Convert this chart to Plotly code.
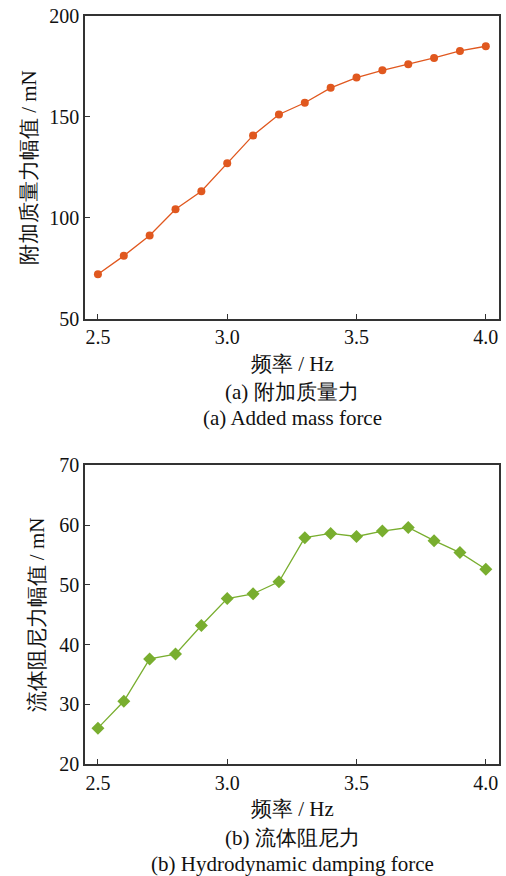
import plotly.graph_objects as go
from plotly.subplots import make_subplots

# frequency (Hz)
freq = [2.5, 2.6, 2.7, 2.8, 2.9, 3.0, 3.1, 3.2, 3.3, 3.4, 3.5, 3.6, 3.7, 3.8, 3.9, 4.0]
# added mass force amplitude (mN)
added_mass = [72.0, 81.1, 91.2, 104.2, 113.1, 127.0, 140.8, 151.2, 157.0, 164.4,
              169.5, 173.1, 176.1, 179.2, 182.7, 185.0]
# hydrodynamic damping force amplitude (mN)
damping = [26.0, 30.5, 37.6, 38.4, 43.2, 47.7, 48.5, 50.5, 57.9, 58.6,
           58.1, 59.0, 59.6, 57.4, 55.4, 52.6]

x_ticks = [2.5, 3.0, 3.5, 4.0]
x_tick_text = ["2.5", "3.0", "3.5", "4.0"]
y1_ticks = [50, 100, 150, 200]
y2_ticks = [20, 30, 40, 50, 60, 70]

FONT = "Liberation Serif"
ORANGE = "#E0581F"
GREEN = "#79AE2F"
FRAME = "#333333"

W, H = 506, 876
ML, MR, MT, MB = 85, 5, 15, 112
plot_h = H - MT - MB


def py(px):
    """Pixel row -> paper y coordinate."""
    return (H - MB - px) / plot_h


def px_x(px):
    return (px - ML) / (W - ML - MR)


fig = make_subplots(rows=2, cols=1, vertical_spacing=0.0)

fig.add_trace(go.Scatter(
    x=freq, y=added_mass, mode="lines+markers",
    line=dict(color=ORANGE, width=1.3),
    marker=dict(symbol="circle", size=8, color=ORANGE),
    showlegend=False), row=1, col=1)

fig.add_trace(go.Scatter(
    x=freq, y=damping, mode="lines+markers",
    line=dict(color=GREEN, width=1.3),
    marker=dict(symbol="diamond", size=10, color=GREEN),
    showlegend=False), row=2, col=1)

axis_common = dict(
    showline=True, linecolor=FRAME, linewidth=1.5, mirror=True,
    ticks="inside", ticklen=5, tickwidth=1.2, tickcolor=FRAME,
    showgrid=False, zeroline=False,
    tickfont=dict(family=FONT, size=20, color="#111111"),
)

top_bottom = 1 - 303 / plot_h
bot_top = 299 / plot_h

fig.update_layout(
    xaxis=dict(domain=[0, 1], range=[2.45, 4.051], tickvals=x_ticks,
               ticktext=x_tick_text, anchor="y", **axis_common),
    yaxis=dict(domain=[top_bottom, 1], range=[50, 200], tickvals=y1_ticks,
               anchor="x", **axis_common),
    xaxis2=dict(domain=[0, 1], range=[2.45, 4.051], tickvals=x_ticks,
                ticktext=x_tick_text, anchor="y2", **axis_common),
    yaxis2=dict(domain=[0, bot_top], range=[20, 70], tickvals=y2_ticks,
                anchor="x2", **axis_common),
)

ann_font = dict(family=FONT, size=21, color="#111111")
annotations = [
    # top panel
    dict(text="附加质量力幅值 / mN", x=px_x(29), y=py(167), textangle=-90),
    dict(text="频率 / Hz", x=px_x(293), y=py(363)),
    dict(text="(a) 附加质量力", x=px_x(293), y=py(392)),
    dict(text="(a) Added mass force", x=px_x(293), y=py(418)),
    # bottom panel
    dict(text="流体阻尼力幅值 / mN", x=px_x(37), y=py(615), textangle=-90),
    dict(text="频率 / Hz", x=px_x(293), y=py(809)),
    dict(text="(b) 流体阻尼力", x=px_x(293), y=py(838)),
    dict(text="(b) Hydrodynamic damping force", x=px_x(293), y=py(864)),
]
fig.update_layout(annotations=[
    dict(a, xref="paper", yref="paper", showarrow=False,
         xanchor="center", yanchor="middle", font=ann_font)
    for a in annotations
])

fig.update_layout(
    width=W, height=H,
    margin=dict(l=ML, r=MR, t=MT, b=MB),
    paper_bgcolor="white", plot_bgcolor="white",
    font=dict(family=FONT, color="#111111"),
)

fig.write_html("out.html", config={"displayModeBar": False})
